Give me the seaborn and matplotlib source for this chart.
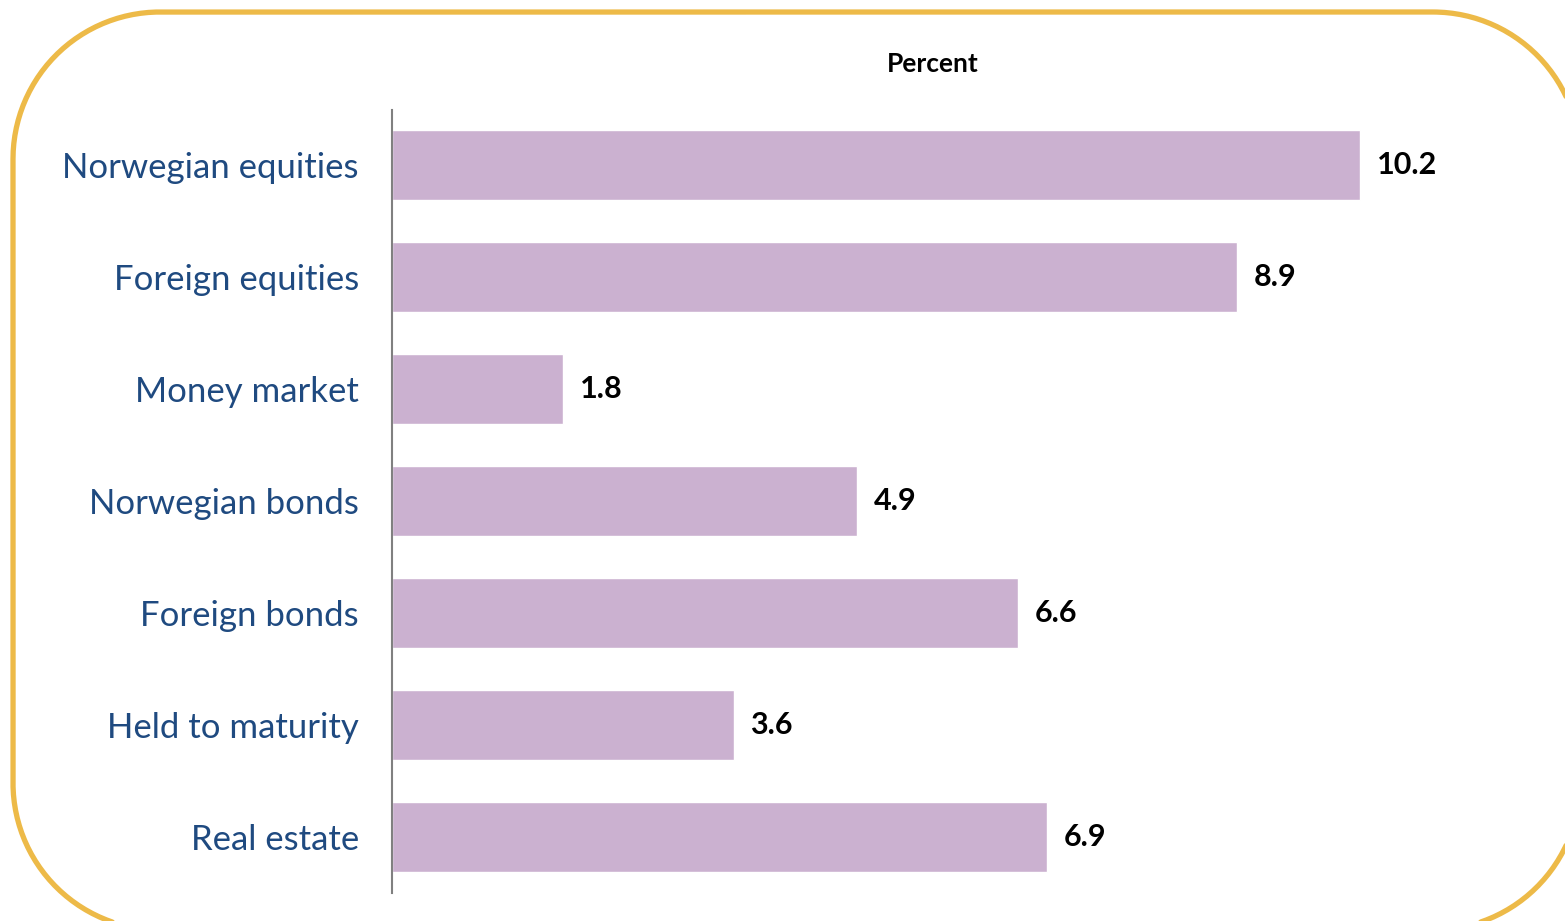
"""
Returns by asset class - horizontal bar chart
"""

import pandas as pd
import numpy as np
import matplotlib.pyplot as plt
import seaborn as sns

categories = ['Norwegian equities', 'Foreign equities', 'Money market',
              'Norwegian bonds', 'Foreign bonds', 'Held to maturity', 'Real estate']
returns = [10.2, 8.9, 1.8, 4.9, 6.6, 3.6, 6.9]

sns.set_style('white')
plt.rcParams['font.family'] = ['Lato', 'DejaVu Sans']

BAR_COLOR = '#CBB1D0'
LABEL_COLOR = '#1F4A80'
BORDER_COLOR = '#EDBA48'

W, H = 1565, 921


def rounded_rect(x0, y0, x1, y1, r, n=60):
    """outline of a rounded rectangle with circular corners"""
    pts = []
    corners = [(x1 - r, y1 - r, 0), (x0 + r, y1 - r, 90),
               (x0 + r, y0 + r, 180), (x1 - r, y0 + r, 270)]
    for cx, cy, a0 in corners:
        t = np.radians(np.linspace(a0, a0 + 90, n))
        pts.append(np.column_stack([cx + r * np.cos(t), cy + r * np.sin(t)]))
    pts = np.vstack(pts)
    return np.vstack([pts, pts[:1]])


df = pd.DataFrame({'category': categories, 'return': returns})

fig = plt.figure(figsize=(W / 100, H / 100), dpi=100)

# background axes in pixel units for the rounded frame
bg = fig.add_axes([0, 0, 1, 1])
bg.set_xlim(0, W)
bg.set_ylim(0, H)
bg.axis('off')
outline = rounded_rect(13, -9, 1580, 909, 147)
bg.plot(outline[:, 0], outline[:, 1], color=BORDER_COLOR, linewidth=3.8,
        solid_capstyle='round')

ax = fig.add_axes([392 / W, 1 - 893 / H, (1474 - 392) / W, (893 - 110) / H])
ax.patch.set_alpha(0)

sns.barplot(data=df, y='category', x='return', orient='h', color=BAR_COLOR,
            width=0.62, saturation=1, ax=ax)

ax.set_xlim(0, 11.4)
ax.set_ylim(6.5, -0.49)
ax.set_xlabel('')
ax.set_ylabel('')
ax.set_xticks([])
ax.tick_params(axis='y', length=0, pad=33 * 0.72, labelsize=25, labelcolor=LABEL_COLOR)

for side in ['top', 'right', 'bottom']:
    ax.spines[side].set_visible(False)
ax.spines['left'].set_color('#808080')
ax.spines['left'].set_linewidth(1.5)

ax.bar_label(ax.containers[0], fmt='%.1f', padding=12, fontsize=22,
             fontweight='bold', color='black')

ax.set_title('Percent', fontsize=19, fontweight='bold', color='black', pad=27)

plt.savefig('out.png', dpi=100)
plt.close()
